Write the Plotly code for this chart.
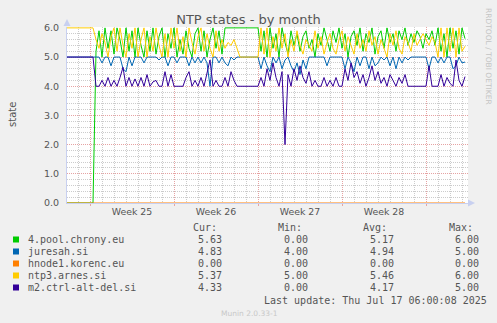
import pandas as pd
import plotly.graph_objects as go

# ---- data: NTP peer states, one sample every 6 hours from 2025-06-14 00:00 ----
start = "2025-06-14 00:00"
step_hours = 6

chrony_pool = [0.0] * 10 + [
    5.2, 5.9, 5.0, 6.0, 5.3, 5.9, 5.1, 6.0, 5.6, 5.0,
    6.0, 5.2, 5.9, 5.0, 6.0, 5.4, 5.0, 5.9, 5.2, 6.0,
    5.1, 5.7, 6.0, 5.0, 5.8, 5.3, 6.0, 5.0, 5.6, 5.1,
    5.9, 5.3, 5.0, 5.8, 6.0, 5.2, 5.9, 5.0, 5.6, 6.0,
    5.3, 5.9, 5.1, 6.0, 6.0, 6.0, 6.0, 6.0, 6.0, 6.0,
    6.0, 6.0, 6.0, 6.0, 6.0, 5.2, 5.9, 5.0, 6.0, 5.3,
    5.8, 5.0, 6.0, 5.5, 5.1, 5.9, 5.4, 5.8, 5.2, 5.7,
    5.9, 5.3, 5.6, 5.0, 5.8, 5.4, 6.0, 5.6, 5.2, 5.9,
    5.5, 6.0, 5.3, 5.8, 5.0, 5.7, 5.9, 5.4, 6.0, 5.2,
    5.8, 5.5, 6.0, 5.1, 5.7, 5.9, 5.3, 6.0, 5.5, 5.8,
    5.2, 5.9, 5.6, 6.0, 5.4, 5.8, 5.5, 5.9, 5.7, 5.3,
    5.8, 5.6, 5.9, 5.4, 6.0, 5.2, 5.8, 5.0, 6.0, 5.3,
    5.9, 5.1, 6.0, 5.63,
]

juresah = [5.0] * 10 + [
    5.0, 5.0, 4.8, 5.0, 5.0, 4.7, 5.0, 5.0, 5.0, 4.6,
    4.5, 5.0, 4.7, 5.0, 5.0, 5.0, 4.8, 5.0, 5.0, 5.0,
    5.0, 4.9, 5.0, 5.0, 4.7, 5.0, 5.0, 4.8, 5.0, 5.0,
    5.0, 4.7, 5.0, 4.8, 5.0, 4.8, 5.0, 4.8, 4.0, 5.0,
    5.0, 4.8, 5.0, 4.8, 4.7, 5.0, 4.9, 5.0, 5.0, 5.0,
    5.0, 5.0, 5.0, 5.0, 5.0, 4.6, 5.0, 4.7, 4.5, 5.0,
    4.8, 5.0, 4.6, 4.9, 5.0, 4.7, 4.5, 4.8, 4.4, 4.9,
    4.6, 5.0, 5.0, 5.0, 5.0, 5.0, 5.0, 4.7, 5.0, 5.0,
    5.0, 5.0, 5.0, 4.6, 5.0, 4.8, 4.5, 5.0, 4.7, 5.0,
    5.0, 4.6, 5.0, 4.7, 4.8, 5.0, 4.9, 5.0, 4.7, 5.0,
    4.6, 5.0, 4.8, 5.0, 4.9, 5.0, 5.0, 5.0, 5.0, 5.0,
    5.0, 4.6, 5.0, 5.0, 4.8, 5.0, 4.8, 5.0, 5.0, 4.6,
    4.7, 5.0, 4.8, 4.83,
]

hnode1 = [0.0] * 134

ntp3_arnes = [6.0] * 10 + [
    5.6, 5.3, 5.8, 5.5, 5.0, 5.7, 6.0, 5.2, 6.0, 5.4,
    5.0, 5.8, 5.3, 6.0, 5.0, 5.6, 6.0, 5.0, 5.7, 5.2,
    6.0, 5.4, 5.0, 5.8, 5.0, 6.0, 5.3, 6.0, 5.2, 5.7,
    5.0, 6.0, 5.5, 5.1, 5.7, 6.0, 5.2, 5.8, 5.3, 5.0,
    5.9, 5.2, 5.6, 5.3, 5.5, 5.4, 5.6, 5.3, 5.0, 5.0,
    5.0, 5.0, 5.0, 5.0, 5.0, 6.0, 5.1, 6.0, 5.0, 5.7,
    5.2, 6.0, 5.3, 5.8, 5.0, 5.6, 5.2, 5.9, 5.4, 5.1,
    5.6, 5.4, 5.2, 5.9, 5.3, 5.7, 5.1, 5.5, 5.8, 5.3,
    5.1, 5.6, 5.9, 5.2, 5.7, 5.4, 5.1, 5.8, 5.3, 5.6,
    5.2, 5.9, 5.4, 5.7, 5.1, 5.6, 5.3, 5.0, 5.8, 5.4,
    5.9, 5.3, 5.1, 5.7, 5.5, 5.2, 5.8, 5.4, 5.6, 5.8,
    5.6, 5.4, 5.7, 5.5, 5.0, 6.0, 5.0, 6.0, 5.2, 6.0,
    5.0, 6.0, 5.2, 5.37,
]

m2_ctrl_alt_del = [5.0] * 10 + [
    4.0, 4.0, 4.2, 4.0, 4.3, 4.0, 4.2, 4.0, 4.3, 4.65,
    4.0, 4.3, 4.0, 4.25, 4.0, 4.3, 4.0, 4.4, 4.0, 4.15,
    4.2, 4.0, 4.0, 4.5, 4.0, 4.4, 4.0, 4.0, 4.0, 4.0,
    4.3, 4.5, 4.0, 4.2, 4.0, 4.3, 4.0, 4.4, 4.9, 4.0,
    4.2, 4.0, 4.0, 4.3, 4.0, 4.5, 4.2, 4.0, 4.0, 4.0,
    4.0, 4.0, 4.0, 4.0, 4.0, 4.3, 4.0, 4.6, 4.2, 4.8,
    4.3, 4.0, 4.5, 2.0, 4.4, 4.0, 4.6, 4.2, 4.7, 4.3,
    4.1, 4.5, 4.0, 4.2, 4.0, 4.0, 4.3, 4.0, 4.2, 4.0,
    4.3, 4.0, 4.0, 4.6, 4.2, 4.8, 4.3, 4.5, 4.1, 4.4,
    4.0, 4.3, 4.7, 4.2, 4.5, 4.1, 4.3, 4.0, 4.4, 4.2,
    4.0, 4.3, 4.1, 4.4, 4.0, 4.0, 4.0, 4.0, 4.0, 4.0,
    4.0, 4.7, 4.0, 4.0, 4.0, 4.4, 4.0, 4.3, 4.1, 4.0,
    4.9, 4.2, 4.0, 4.33,
]

names = ["4.pool.chrony.eu", "juresah.si", "hnode1.korenc.eu", "ntp3.arnes.si", "m2.ctrl-alt-del.si"]
colors = ["#00CC00", "#0066B3", "#FF8000", "#FFCC00", "#330099"]
series = [chrony_pool, juresah, hnode1, ntp3_arnes, m2_ctrl_alt_del]

cur_vals = [5.63, 4.83, 0.00, 5.37, 4.33]
min_vals = [0.00, 4.00, 0.00, 5.00, 0.00]
avg_vals = [5.17, 4.94, 0.00, 5.46, 4.17]
max_vals = [6.00, 5.00, 0.00, 6.00, 5.00]

week_labels = ["Week 25", "Week 26", "Week 27", "Week 28"]
week_starts = ["2025-06-16", "2025-06-23", "2025-06-30", "2025-07-07", "2025-07-14"]
y_ticks = [0, 1, 2, 3, 4, 5, 6]

x_range = ["2025-06-14 02:00", "2025-07-17 12:00"]
y_range = [0, 6.03]

# ---- canvas geometry (pixels) ----
W, H = 497, 323
L, R, T, B = 67, 29, 27, 120
PW, PH = W - L - R, H - T - B


def px_x(px):
    return (px - L) / PW


def px_y(py):
    return (H - B - py) / PH


times = pd.date_range(start=start, periods=len(chrony_pool), freq=f"{step_hours}h")
week_mid = [pd.Timestamp(d) + pd.Timedelta(days=3, hours=12) for d in week_starts[:len(week_labels)]]

TEXT = "#555555"
MONO = "DejaVu Sans Mono"
SANS = "DejaVu Sans"
MAJOR_GRID = "#E6A3A3"
MINOR_GRID = "#CCCCCC"
AXIS = "#C8D0F0"

fig = go.Figure()
for name, color, vals in zip(names, colors, series):
    fig.add_trace(go.Scatter(
        x=times, y=vals, mode="lines", name=name,
        line=dict(color=color, width=1), xaxis="x", yaxis="y",
    ))

# invisible trace that carries the week label axis
fig.add_trace(go.Scatter(x=[times[0]], y=[None], xaxis="x2", yaxis="y",
                         showlegend=False, hoverinfo="skip"))

annotations = []

# y-axis title and side credit
annotations.append(dict(text="state", xref="paper", yref="paper", x=px_x(12), y=px_y(115),
                        xanchor="center", yanchor="middle",
                        showarrow=False, textangle=-90, font=dict(family=SANS, size=10, color=TEXT)))
annotations.append(dict(text="RRDTOOL / TOBI OETIKER", xref="paper", yref="paper",
                        x=px_x(489), y=px_y(56), xanchor="center", yanchor="middle",
                        showarrow=False, textangle=90,
                        font=dict(family=SANS, size=7.5, color="#C4C4C4")))

# legend table
row_y = [239.5, 251.5, 263.5, 275.5, 287.5]
header_y = 227.5
col_hdr_x = {"Cur:": 190.5, "Min:": 275.5, "Avg:": 361, "Max:": 447}
col_val_x = [196, 282, 367.5, 453]
for hdr, hx in col_hdr_x.items():
    annotations.append(dict(text=hdr, xref="paper", yref="paper", x=px_x(hx), y=px_y(header_y),
                            xanchor="left", yanchor="middle", showarrow=False,
                            font=dict(family=MONO, size=10, color=TEXT)))

shapes = []
for i, name in enumerate(names):
    ry = row_y[i]
    shapes.append(dict(type="rect", xref="paper", yref="paper",
                       x0=px_x(13), x1=px_x(19), y0=px_y(ry + 3), y1=px_y(ry - 3),
                       fillcolor=colors[i], line=dict(width=0)))
    annotations.append(dict(text=name, xref="paper", yref="paper", x=px_x(26), y=px_y(ry),
                            xanchor="left", yanchor="middle", showarrow=False,
                            font=dict(family=MONO, size=10, color=TEXT)))
    for cx, v in zip(col_val_x, [cur_vals[i], min_vals[i], avg_vals[i], max_vals[i]]):
        annotations.append(dict(text=f"{v:.2f}", xref="paper", yref="paper", x=px_x(cx), y=px_y(ry),
                                xanchor="left", yanchor="middle", showarrow=False,
                                font=dict(family=MONO, size=10, color=TEXT)))

annotations.append(dict(text="Last update: Thu Jul 17 06:00:08 2025", xref="paper", yref="paper",
                        x=px_x(261.5), y=px_y(300), xanchor="left", yanchor="middle", showarrow=False,
                        font=dict(family=MONO, size=10, color=TEXT)))
annotations.append(dict(text="Munin 2.0.33-1", xref="paper", yref="paper",
                        x=px_x(249), y=px_y(313), xanchor="center", yanchor="middle", showarrow=False,
                        font=dict(family=SANS, size=7.5, color="#C8C8C8")))

# axis arrows
shapes.append(dict(type="path", xref="paper", yref="paper",
                   path=f"M {px_x(63.5)} {px_y(26)} L {px_x(70.5)} {px_y(26)} L {px_x(67)} {px_y(19)} Z",
                   fillcolor=AXIS, line=dict(width=0)))
shapes.append(dict(type="path", xref="paper", yref="paper",
                   path=f"M {px_x(468)} {px_y(199.5)} L {px_x(468)} {px_y(206.5)} L {px_x(475)} {px_y(203)} Z",
                   fillcolor=AXIS, line=dict(width=0)))

fig.update_layout(
    width=W, height=H,
    margin=dict(l=L, r=R, t=T, b=B, pad=0),
    paper_bgcolor="#F0F0F0",
    plot_bgcolor="#FFFFFF",
    showlegend=False,
    title=dict(text="NTP states - by month", x=(248.5) / W, xanchor="center",
               y=1 - 19 / H, yanchor="middle",
               font=dict(family=SANS, size=13, color=TEXT)),
    xaxis=dict(
        type="date", range=x_range,
        tickmode="array", tickvals=week_starts, ticktext=[""] * len(week_starts),
        showgrid=True, gridcolor=MAJOR_GRID, griddash="1px,1px", gridwidth=1,
        minor=dict(dtick=86400000, tick0="2025-06-16", showgrid=True,
                   gridcolor=MINOR_GRID, griddash="1px,1px", gridwidth=1),
        ticks="outside", ticklen=2, tickcolor=MAJOR_GRID,
        showline=True, linecolor=AXIS, linewidth=1,
        zeroline=False,
    ),
    xaxis2=dict(
        type="date", range=x_range, overlaying="x", matches="x", side="bottom",
        tickmode="array", tickvals=week_mid, ticktext=week_labels,
        showgrid=False, ticks="", showline=False, zeroline=False,
        tickfont=dict(family=SANS, size=9.4, color=TEXT),
        ticklabelstandoff=2,
    ),
    yaxis=dict(
        range=y_range, tickmode="array", tickvals=y_ticks,
        ticktext=[f"{v:.1f}" for v in y_ticks],
        tickfont=dict(family=SANS, size=9.5, color=TEXT),
        showgrid=True, gridcolor=MAJOR_GRID, griddash="1px,1px", gridwidth=1,
        minor=dict(dtick=0.2, showgrid=True, gridcolor=MINOR_GRID, griddash="1px,1px", gridwidth=1),
        ticks="", ticklabelstandoff=5,
        showline=True, linecolor=AXIS, linewidth=1,
        zeroline=False,
    ),
    annotations=annotations,
    shapes=shapes,
)

fig.write_html("out.html")
